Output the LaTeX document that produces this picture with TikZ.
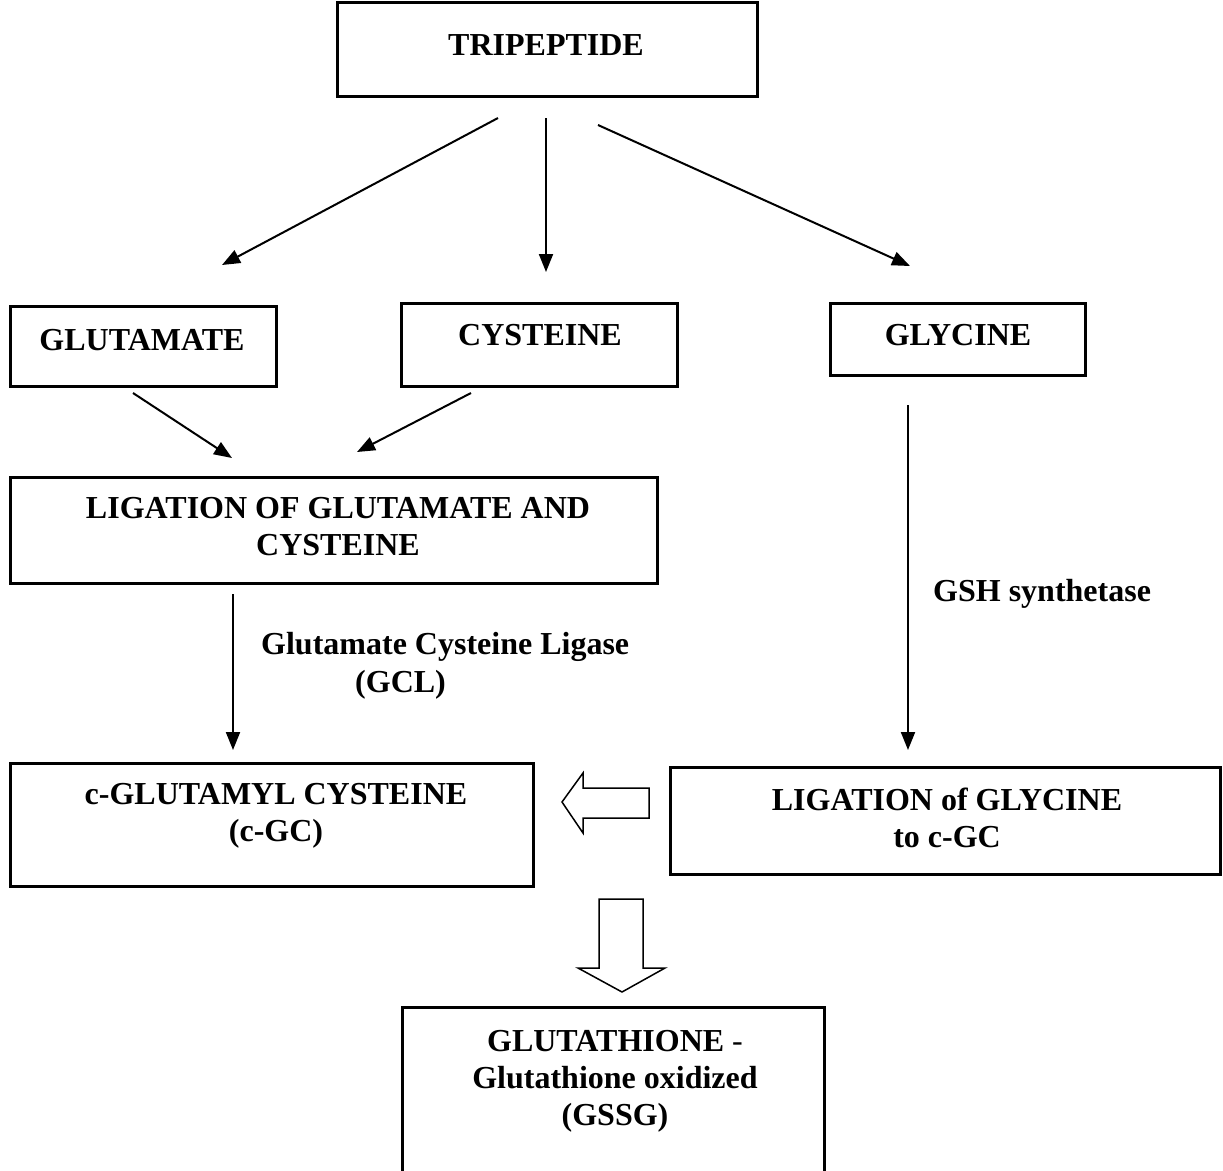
\documentclass[tikz,border=0pt]{standalone}
\usepackage{fontspec}
\setmainfont{Liberation Serif}
\usetikzlibrary{arrows.meta}
\begin{document}
\begin{tikzpicture}[x=1pt,y=-1pt,
  box/.style={draw, line width=3pt, inner sep=0pt, outer sep=0pt},
  txt/.style={font=\fontsize{32}{37}\selectfont\bfseries, align=center, inner sep=0pt},
  lbl/.style={font=\fontsize{32}{38}\selectfont\bfseries, align=left, inner sep=0pt, anchor=west},
  conn/.style={line width=2pt, -{Triangle[length=18pt,width=14pt]}},
  blockarrow/.style={draw, line width=1.5pt, fill=white, line join=miter}]
\useasboundingbox (0,0) rectangle (1223,1170);
\clip (0,0) rectangle (1223,1170);
% boxes
\node[box, minimum width=420pt, minimum height=94pt] (trip) at (547,49) {};
\node[box, minimum width=266pt, minimum height=80pt] (glu) at (143,346) {};
\node[box, minimum width=276pt, minimum height=83pt] (cys) at (539,344.5) {};
\node[box, minimum width=255pt, minimum height=72pt] (gly) at (957.5,339) {};
\node[box, minimum width=647pt, minimum height=106pt] (lig1) at (333.5,530) {};
\node[box, minimum width=523pt, minimum height=123pt] (cgc) at (271.5,824.5) {};
\node[box, minimum width=550pt, minimum height=107pt] (lig2) at (945,820.5) {};
\node[box, minimum width=422pt, minimum height=180pt] (gsh) at (613,1097) {};
% texts
\node[txt] (tripT) at (546,45) {TRIPEPTIDE};
\node[txt] (gluT) at (142,340) {GLUTAMATE};
\node[txt] (cysT) at (540,335) {CYSTEINE};
\node[txt] (glyT) at (958,335) {GLYCINE};
\node[txt] (lig1T) at (338,527) {LIGATION OF GLUTAMATE AND\\CYSTEINE};
\node[txt] (cgcT) at (276,816) {c-GLUTAMYL CYSTEINE\\(c-GC)};
\node[txt] (lig2T) at (947,818) {LIGATION of GLYCINE\\to c-GC};
\node[txt] (gshT) at (615,1081) {GLUTATHIONE {\mdseries -}\\Glutathione oxidized\\(GSSG)};
\node[lbl] (gcl) at (261,666) {Glutamate Cysteine Ligase\\\hspace*{94pt}(GCL)};
\node[lbl] (gshs) at (933,594) {GSH synthetase};
% connector end points
\coordinate (s1) at (498,118); \coordinate (e1) at (222,265);
\coordinate (s2) at (546,118); \coordinate (e2) at (546,272);
\coordinate (s3) at (598,125); \coordinate (e3) at (910,266);
\coordinate (s4) at (133,393); \coordinate (e4) at (232,458);
\coordinate (s5) at (471,393); \coordinate (e5) at (357,452);
\coordinate (s6) at (233,594); \coordinate (e6) at (233,750);
\coordinate (s7) at (908,405); \coordinate (e7) at (908,750);
\draw[conn] (s1) -- (e1);
\draw[conn] (s2) -- (e2);
\draw[conn] (s3) -- (e3);
\draw[conn] (s4) -- (e4);
\draw[conn] (s5) -- (e5);
\draw[conn] (s6) -- (e6);
\draw[conn] (s7) -- (e7);
% block arrows
\draw[blockarrow] (649,788) -- (583,788) -- (583,773) -- (562,802) -- (583,833) -- (583,818) -- (649,818) -- cycle;
\draw[blockarrow] (599,899) -- (643,899) -- (643,968) -- (665,968) -- (622,992) -- (578,968) -- (599,968) -- cycle;
\end{tikzpicture}
\end{document}
